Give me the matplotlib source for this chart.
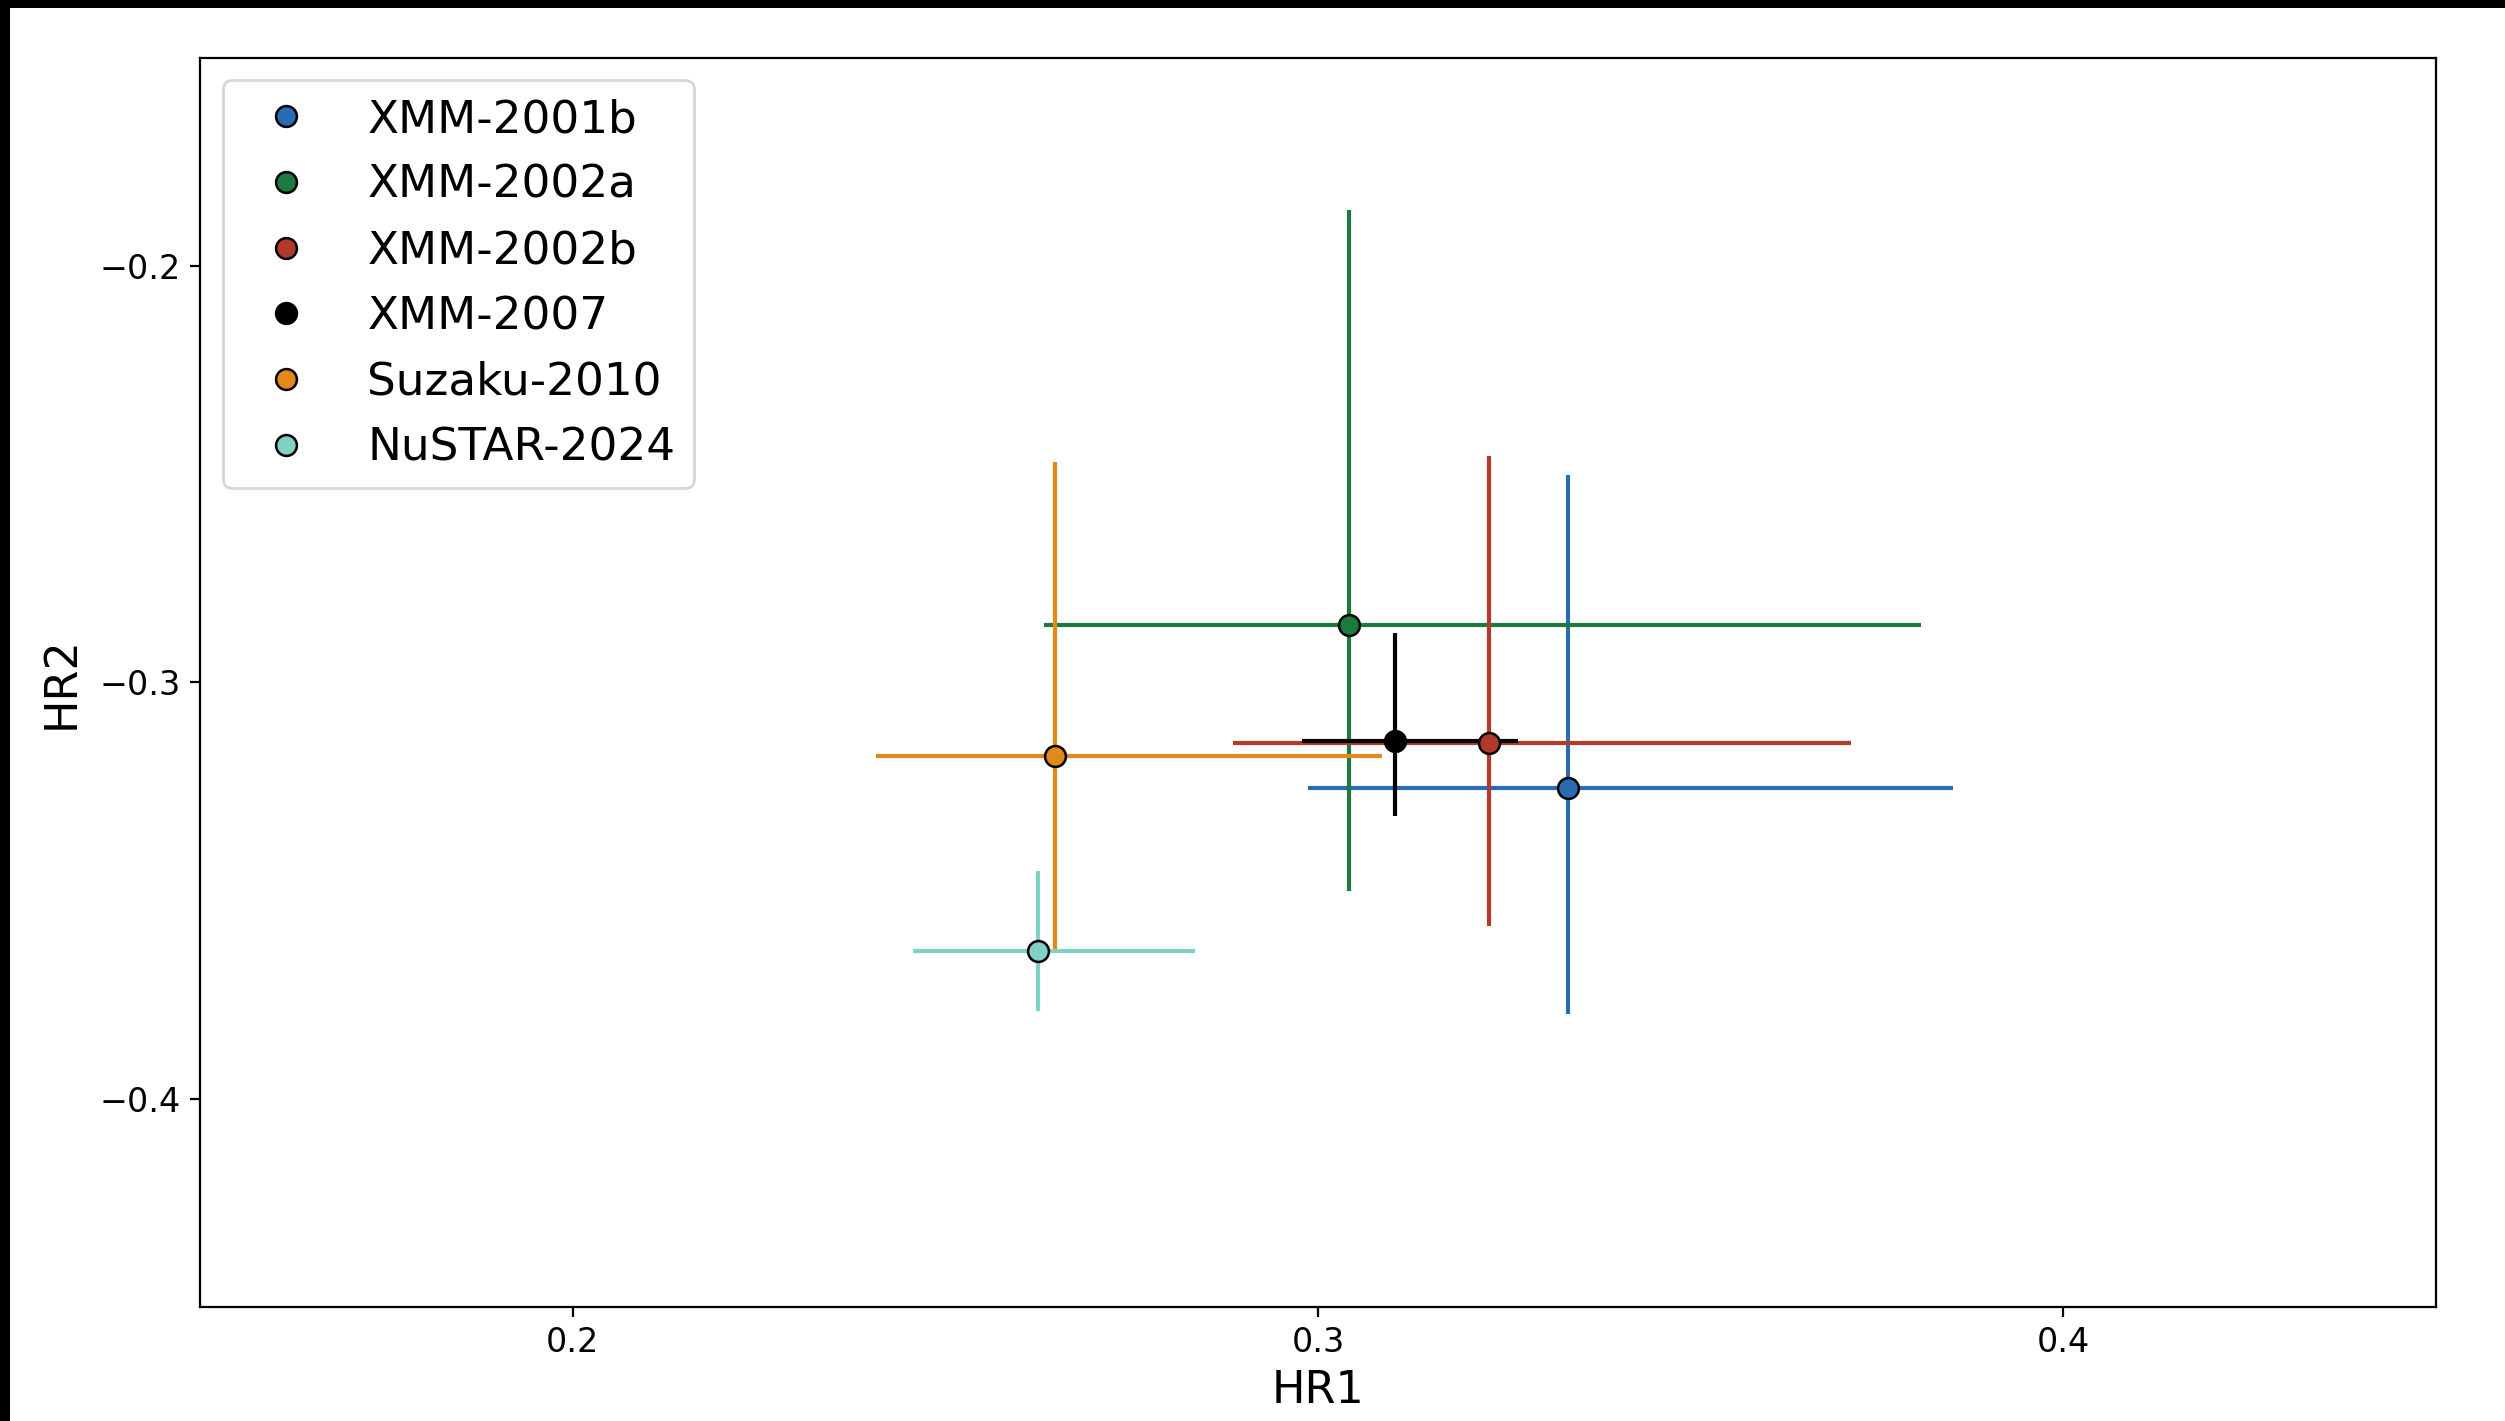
import matplotlib
matplotlib.use("Agg")
import matplotlib.pyplot as plt
from matplotlib.lines import Line2D
from matplotlib.patches import Rectangle
import numpy as np

labels = ["XMM-2001b", "XMM-2002a", "XMM-2002b", "XMM-2007", "Suzaku-2010", "NuSTAR-2024"]
colors = ["#2a6bb3", "#1c7a3c", "#b3392c", "#000000", "#e3891b", "#80d0c4"]
hr1 = [0.3336, 0.3041, 0.3229, 0.3103, 0.2647, 0.2625]
hr2 = [-0.3253, -0.2862, -0.3146, -0.3142, -0.3176, -0.3644]
hr1_lo = [0.2987, 0.2632, 0.2886, 0.2979, 0.2407, 0.2456]
hr1_hi = [0.3852, 0.3809, 0.3715, 0.3268, 0.3086, 0.2835]
hr2_lo = [-0.3797, -0.3502, -0.3586, -0.3322, -0.3648, -0.3789]
hr2_hi = [-0.2502, -0.1866, -0.2456, -0.2881, -0.2471, -0.3452]
xticks = [0.2, 0.3, 0.4]
yticks = [-0.4, -0.3, -0.2]

fig = plt.figure(figsize=(2505 / 200, 1421 / 200), dpi=200)
ax = fig.add_axes([0.0798, 0.0802, 0.9725 - 0.0798, 0.9595 - 0.0802])

handles = []
for i in range(len(labels)):
    xe = [[hr1[i] - hr1_lo[i]], [hr1_hi[i] - hr1[i]]]
    ye = [[hr2[i] - hr2_lo[i]], [hr2_hi[i] - hr2[i]]]
    ax.errorbar([hr1[i]], [hr2[i]], xerr=xe, yerr=ye, fmt="o", color=colors[i],
                ecolor=colors[i], elinewidth=1.5, markersize=7.5,
                markeredgecolor="black", markeredgewidth=0.9, capsize=0)
    handles.append(Line2D([], [], marker="o", linestyle="none", color=colors[i],
                          markeredgecolor="black", markeredgewidth=0.9,
                          markersize=7.5, label=labels[i]))

ax.set_xlim(0.15, 0.45)
ax.set_ylim(-0.45, -0.15)
ax.set_xticks(xticks)
ax.set_yticks(yticks)
ax.tick_params(labelsize=12)
ax.set_xlabel("HR1", fontsize=16, labelpad=3.5)
ax.set_ylabel("HR2", fontsize=16, labelpad=6)

ax.legend(handles=handles, loc="upper left", fontsize=16.3, handletextpad=0.8,
          labelspacing=0.5, borderpad=0.4, framealpha=0.8)

# dark screenshot border at top and left
fig.patches.append(Rectangle((0, 1 - 8 / 1421), 1, 8 / 1421, transform=fig.transFigure,
                             facecolor="black", edgecolor="none", zorder=10))
fig.patches.append(Rectangle((0, 0), 10 / 2505, 1, transform=fig.transFigure,
                             facecolor="black", edgecolor="none", zorder=10))

fig.savefig("out.png", dpi=200)
